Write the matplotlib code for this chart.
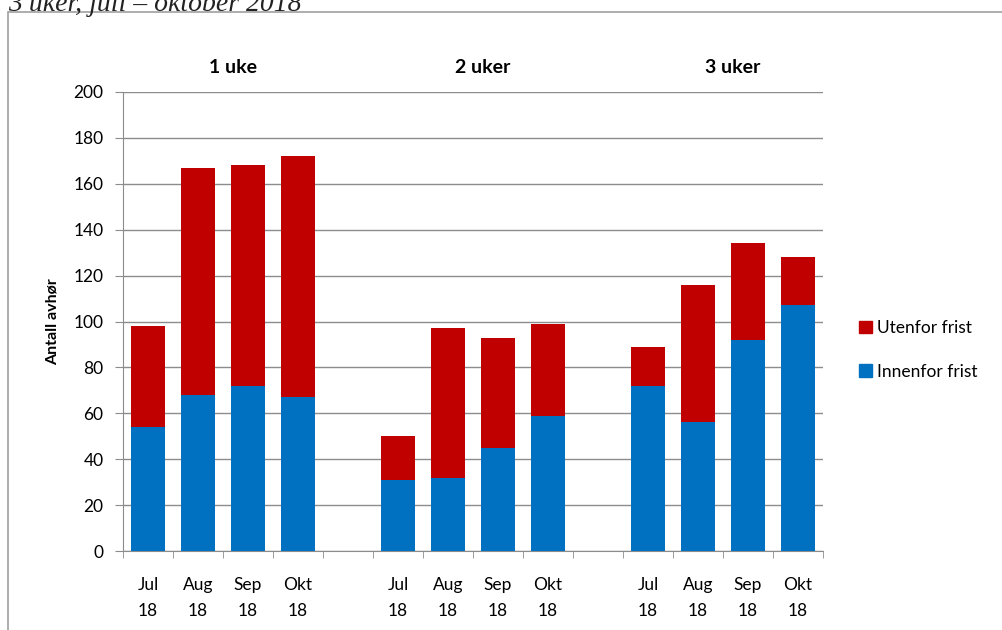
import matplotlib.pyplot as plt
from matplotlib.patches import Rectangle, Patch

groups = ['1 uke', '2 uker', '3 uker']
months = ['Jul\n18', 'Aug\n18', 'Sep\n18', 'Okt\n18']
innenfor = [[54, 68, 72, 67], [31, 32, 45, 59], [72, 56, 92, 107]]
utenfor = [[44, 99, 96, 105], [19, 65, 48, 40], [17, 60, 42, 21]]

red = '#C00000'
blue = '#0070C0'
grey = '#8C8C8C'

plt.rcParams['font.family'] = ['Lato', 'DejaVu Sans']

fig = plt.figure(figsize=(10.03, 6.30), dpi=100)
W, H = 1003, 630

# outer frame, runs off right and bottom edge
fig.patches.append(Rectangle((8 / W, -0.05), 1.1, 1 - 12 / H + 0.05,
                             transform=fig.transFigure, fill=False,
                             edgecolor='#A0A0A0', linewidth=1.2))
# title is cut off at the top in the original as well
fig.text(8 / W, 1 - 11 / H, '3 uker, juli \u2013 oktober 2018',
         family='Liberation Serif', style='italic', fontsize=20,
         ha='left', va='baseline', color='#222222')

ax = fig.add_axes([123 / W, 1 - 551 / H, 700 / W, 459 / H])

pos, labels = [], []
for g in range(len(groups)):
    for i, m in enumerate(months):
        pos.append(g * 5 + i)
        labels.append(m)
inn = [v for row in innenfor for v in row]
ut = [v for row in utenfor for v in row]

ax.bar(pos, inn, width=0.68, color=blue, zorder=3)
ax.bar(pos, ut, width=0.68, bottom=inn, color=red, zorder=3)

ax.set_xlim(-0.5, 13.5)
ax.set_ylim(0, 200)
ax.set_yticks(range(0, 201, 20))
ax.yaxis.grid(True, color=grey, linewidth=1, zorder=0)
ax.tick_params(axis='y', length=6, color=grey, labelsize=12.5, pad=8)

ax.set_xticks(pos)
ax.set_xticklabels(labels, linespacing=1.75, fontsize=12.5)
ax.set_xticks([x - 0.5 for x in range(15)], minor=True)
ax.tick_params(axis='x', which='major', length=0, pad=19)
ax.tick_params(axis='x', which='minor', length=5, color=grey)

for s in ['top', 'right']:
    ax.spines[s].set_visible(False)
for s in ['left', 'bottom']:
    ax.spines[s].set_color(grey)

ax.set_ylabel('Antall avh\u00f8r', fontweight='bold', fontsize=11.5, labelpad=10)

for g, name in enumerate(groups):
    ax.text(g * 5 + 1.7, 207, name, fontweight='bold', fontsize=14,
            ha='center', va='bottom')

handles = [Patch(color=red, label='Utenfor frist'),
           Patch(color=blue, label='Innenfor frist')]
fig.legend(handles=handles, loc='center left',
           bbox_to_anchor=(843 / W, 1 - 350 / H), frameon=False,
           handlelength=0.75, handleheight=0.75, handletextpad=0.3,
           labelspacing=1.6, fontsize=12.5)

fig.savefig('out.png', dpi=100)
